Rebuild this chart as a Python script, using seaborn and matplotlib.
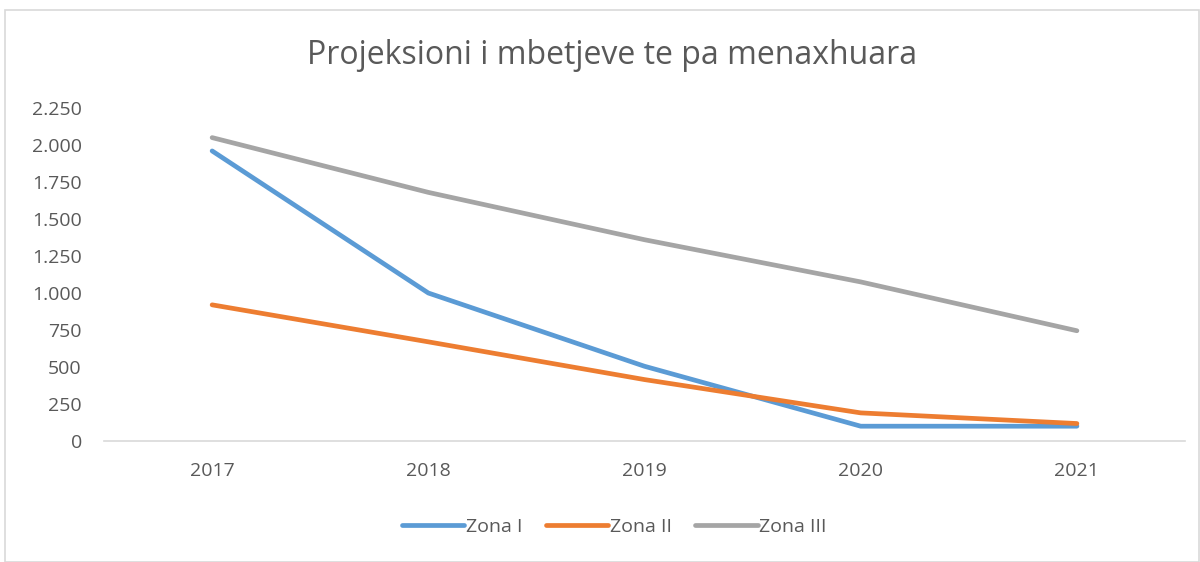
import matplotlib
matplotlib.use("Agg")
import matplotlib.pyplot as plt
import matplotlib.patches as mpatches
import matplotlib.ticker as mticker
import seaborn as sns
import pandas as pd

years = ["2017", "2018", "2019", "2020", "2021"]
zona_1 = [1960, 1000, 505, 100, 100]
zona_2 = [920, 670, 415, 190, 118]
zona_3 = [2050, 1680, 1360, 1075, 745]
series_names = ["Zona I", "Zona II", "Zona III"]
colors = ["#5B9BD5", "#ED7D31", "#A5A5A5"]

rows = []
for name, vals in zip(series_names, [zona_1, zona_2, zona_3]):
    for i, (y, v) in enumerate(zip(years, vals)):
        rows.append({"pos": i, "year": y, "value": v, "series": name})
df = pd.DataFrame(rows)

sns.set_style("white")
plt.rcParams["font.family"] = ["Open Sans", "DejaVu Sans"]

fig = plt.figure(figsize=(12, 5.62), dpi=100)
ax = fig.add_axes([0.0867, 0.2153, 0.9008, 0.5925])

sns.lineplot(data=df, x="pos", y="value", hue="series", palette=colors,
             linewidth=3.4, ax=ax, legend=True, solid_capstyle="round")

ax.set_xlim(-0.5, 4.5)
ax.set_ylim(0, 2250)
ax.set_xticks(range(len(years)))
ax.set_xticklabels(years)
ax.yaxis.set_major_locator(mticker.MultipleLocator(250))
ax.yaxis.set_major_formatter(mticker.FuncFormatter(lambda v, p: f"{int(v):,}".replace(",", ".")))
ax.tick_params(axis="both", length=0, labelsize=14, labelcolor="#595959")
ax.tick_params(axis="x", pad=15)
ax.tick_params(axis="y", pad=16)
ax.set_xlabel("")
ax.set_ylabel("")
for s in ["top", "right", "left"]:
    ax.spines[s].set_visible(False)
ax.spines["bottom"].set_color("#D9D9D9")
ax.spines["bottom"].set_linewidth(1.2)

fig.suptitle("Projeksioni i mbetjeve te pa menaxhuara", x=0.51, y=0.93,
             fontsize=23, color="#595959")

handles, labels = ax.get_legend_handles_labels()
ax.legend(handles, labels, loc="center", bbox_to_anchor=(0.512, 0.062),
          bbox_transform=fig.transFigure, ncol=3, frameon=False,
          fontsize=14, labelcolor="#595959", handlelength=3.2,
          handletextpad=0.1, columnspacing=1.2)

fig.patches.append(mpatches.Rectangle((0.004, 0.0), 0.995, 0.983,
                                      transform=fig.transFigure, fill=False,
                                      edgecolor="#D9D9D9", linewidth=1.2))

fig.savefig("out.png", dpi=100)
